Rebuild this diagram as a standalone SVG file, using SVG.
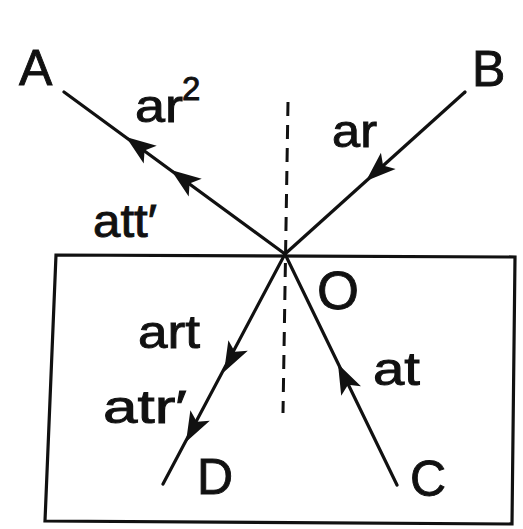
<svg xmlns="http://www.w3.org/2000/svg" xmlns:xlink="http://www.w3.org/1999/xlink" width="523" height="529" viewBox="0 0 523 529">
<style>
.ray{stroke:#111;stroke-width:3.2;fill:none;stroke-linecap:round}
.dash{stroke:#111;stroke-width:3;fill:none;stroke-dasharray:14 9}
.box{stroke:#111;stroke-width:3.2;fill:none}
.lbl{font-family:"Liberation Sans",Arial,sans-serif;fill:#111;stroke:#111;stroke-width:0.9}
.big{font-size:50px}
.sm{font-size:46px}
.ah{fill:#111}
</style>
<defs>
<path id="ah" d="M0,0 L-30,-11 L-23,0 L-30,11 Z"/>
</defs>
<rect width="523" height="529" fill="#fff"/>
<g id="medium">
<path class="box" d="M56,255 L515,257 L512,524 L45,521 Z"/>
</g>
<g id="normal">
<path class="dash" d="M288,102 L283,413"/>
</g>
<g id="connectors">
<path class="ray" d="M64,92 L285,254"/>
<path class="ray" d="M465,92 L285,254"/>
<path class="ray" d="M285,254 L163,484"/>
<path class="ray" d="M285,254 L397,485"/>
<use class="ah" xlink:href="#ah" transform="translate(126,137) rotate(-143.8)"/>
<use class="ah" xlink:href="#ah" transform="translate(171,170) rotate(-143.8)"/>
<use class="ah" xlink:href="#ah" transform="translate(366,181) rotate(138)"/>
<use class="ah" xlink:href="#ah" transform="translate(224,372) rotate(118)"/>
<use class="ah" xlink:href="#ah" transform="translate(186,442) rotate(118)"/>
<use class="ah" xlink:href="#ah" transform="translate(338,364) rotate(-115.9)"/>
</g>
<g id="A"><text class="lbl big" x="19" y="85">A</text></g>
<g id="B"><text class="lbl big" x="472" y="86">B</text></g>
<g id="O"><text class="lbl big" x="317" y="309" style="font-size:54px">O</text></g>
<g id="D"><text class="lbl big" x="197" y="494">D</text></g>
<g id="C"><text class="lbl big" x="410" y="496">C</text></g>
<g id="label-ar2"><text class="lbl sm" x="135" y="122"><tspan textLength="48" lengthAdjust="spacingAndGlyphs">ar</tspan><tspan x="182" y="100" style="font-size:33px">2</tspan></text></g>
<g id="label-ar"><text class="lbl sm" x="332" y="147" textLength="45" lengthAdjust="spacingAndGlyphs">ar</text></g>
<g id="label-att"><text class="lbl sm" x="93" y="237" textLength="64" lengthAdjust="spacingAndGlyphs">att′</text></g>
<g id="label-art"><text class="lbl sm" x="138" y="348" textLength="62" lengthAdjust="spacingAndGlyphs">art</text></g>
<g id="label-atr"><text class="lbl sm" x="103" y="423" textLength="84" lengthAdjust="spacingAndGlyphs">atr′</text></g>
<g id="label-at"><text class="lbl sm" x="373" y="385" textLength="47" lengthAdjust="spacingAndGlyphs">at</text></g>
</svg>
